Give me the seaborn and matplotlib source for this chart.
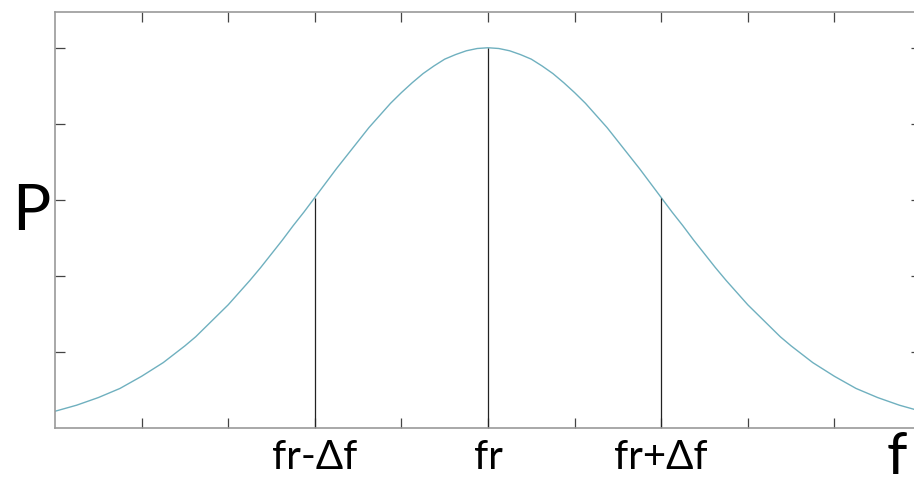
import numpy as np
import pandas as pd
import matplotlib
matplotlib.use('Agg')
import matplotlib.pyplot as plt
import seaborn as sns

f_vals = np.linspace(0, 10, 81)
p_vals = [0.22, 0.26, 0.30, 0.35, 0.40, 0.46, 0.52, 0.60, 0.68, 0.77, 0.86, 0.97, 1.08,
          1.20, 1.34, 1.48, 1.62, 1.78, 1.94, 2.11, 2.29, 2.47, 2.66, 2.84, 3.03, 3.22,
          3.41, 3.59, 3.77, 3.95, 4.11, 4.27, 4.41, 4.54, 4.66, 4.76, 4.85, 4.91, 4.96,
          4.99, 5.00,
          4.99, 4.96, 4.91, 4.85, 4.76, 4.66, 4.54, 4.41, 4.27, 4.11, 3.95, 3.77, 3.59,
          3.41, 3.22, 3.03, 2.84, 2.66, 2.47, 2.29, 2.11, 1.94, 1.78, 1.62, 1.48, 1.34,
          1.20, 1.08, 0.97, 0.86, 0.77, 0.68, 0.60, 0.52, 0.46, 0.40, 0.35, 0.30, 0.26,
          0.22]

# marked frequencies
marker_f = [3, 5, 7]
marker_p = [3.03, 5.00, 3.03]
marker_labels = ['fr-Δf', 'fr', 'fr+Δf']

x_ticks = [1, 2, 3, 4, 5, 6, 7, 8, 9]
y_ticks = [1, 2, 3, 4, 5]

sns.set_style('white')
plt.rcParams['font.family'] = ['Lato', 'DejaVu Sans']

fig = plt.figure(figsize=(9.14, 4.85), dpi=100)
ax = fig.add_axes([55 / 914, 56 / 485, 866 / 914, 416 / 485])

df = pd.DataFrame({'f': f_vals, 'P': p_vals})
sns.lineplot(data=df, x='f', y='P', ax=ax, color='#6fb0bf', linewidth=1.0)
ax.vlines(marker_f, 0, marker_p, color='#222222', linewidth=0.9)

ax.set_xlim(0, 10)
ax.set_ylim(0, 5.47)
ax.set_xticks(x_ticks)
ax.set_yticks(y_ticks)
ax.set_xticklabels([])
ax.set_yticklabels([])
ax.set_xlabel('')
ax.set_ylabel('')
ax.tick_params(direction='in', length=7, width=0.9, color='#444444',
               top=True, right=True, bottom=True, left=True)
for s in ax.spines.values():
    s.set_color('#999999')
    s.set_linewidth(1.2)

for fx, lab in zip(marker_f, marker_labels):
    ax.text(fx, -0.52, lab, ha='center', va='baseline', fontsize=29,
            color='black', clip_on=False)

fig.text(12 / 914, 1 - 230 / 485, 'P', fontsize=46, ha='left', va='baseline', color='black')
fig.text(897 / 914, 1 / 485, 'f', fontsize=42, ha='center', va='bottom', color='black')

fig.savefig('out.png', dpi=100)
